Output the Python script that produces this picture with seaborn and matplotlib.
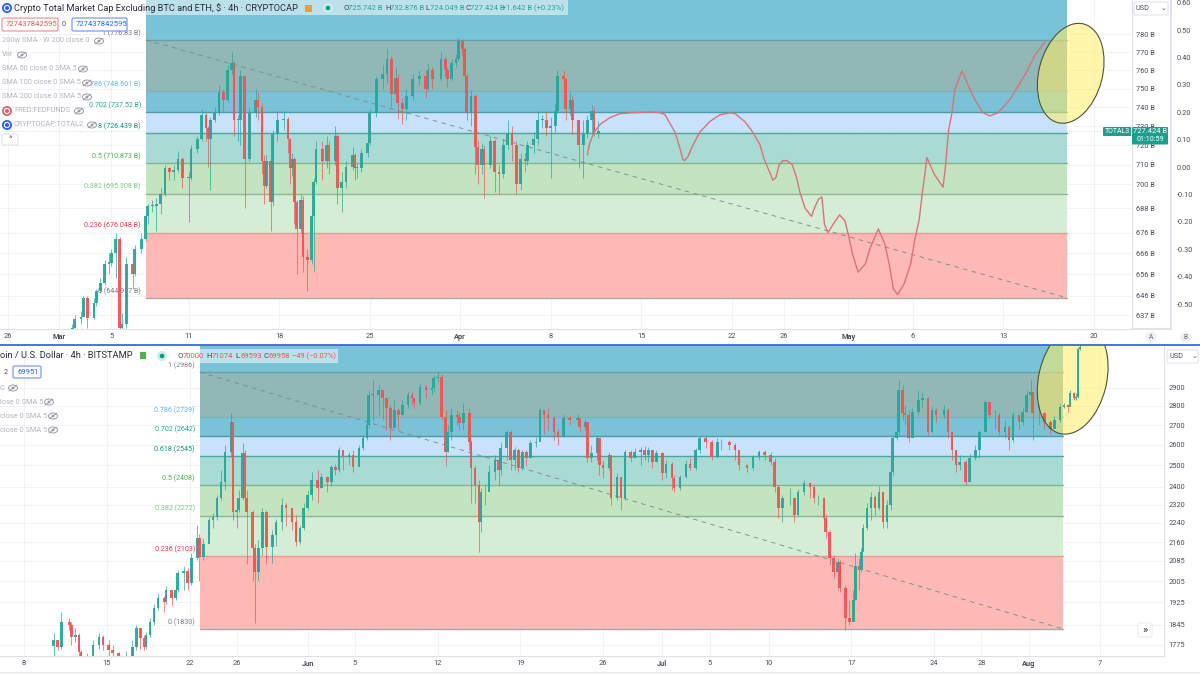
import numpy as np
import seaborn as sns
import matplotlib.pyplot as plt
from matplotlib.patches import Ellipse, Rectangle, FancyBboxPatch, Circle
from matplotlib.transforms import IdentityTransform

sns.set_theme(style='white')
plt.rcParams['font.family'] = ['Roboto', 'DejaVu Sans']

# top chart, 4h bars counted from Mar 1, prices in billions
top_bar = [6,7,10,11,13,16,17,19,21,23,
    24,26,28,29,31,34,35,38,40,41,
    43,45,47,49,51,53,55,57,60,61,
    64,66,68,69,70,72,74,76,78,80,
    81,83,84,86,88,91,92,94,95,96,
    98,99,101,104,106,107,108,109,110,112,
    113,115,117,118,119,122,124,125,128,129,
    131,133,136,137,138,140,143,144,147,150,
    152,154,156,157,159,161,164,167,170,171,
    173,177,179,180,182,184,185,187,188,189,
    191,193,194,196,197,200,202,204,206,208,
    210,212,214,216,217,220,222,224,226,228,
    230,231,234,235,237,238,241,243,245,247,
    248,250]
top_close = [631,635,636,645,635.5,642.5,648,652,661,661.5,
    666,673,631,633,661,656,668,673,684,689,
    689,690,695,708,706,707,713,703,703,718,
    723,736,729,723,733,737,748,744,760,764,
    733,733,757,713,737,744,740,712,699,712,
    691,726,733,734,723,708,713,691,678,692,
    664,663,684,701,718,712,720,712,725,698,
    701,709,715,708,708,716,721,737,755,758,
    766,747,756,742,739,746,755,757,750,760,
    755,766,760,755,764,766,776,772,757,737,
    746,719,710,718,710,722,706,705,720,726,
    720,700,713,712,720,723,733,733,729,730,
    738,757,755,739,744,733,720,726,733,738,
    726,727.4]
top_high = [633,637,639,646,646,645,649,654,663,666,
    668,676,674,638,664,662,670,676,686,690,
    692,693,698,710,709,710,717,714,706,720,
    725,739,737,730,735,740,752,750,763,770,
    765,736,760,755,740,750,748,742,715,715,
    712,728,738,738,735,724,716,714,692,695,
    694,668,686,703,722,722,725,722,730,726,
    706,712,719,716,711,718,725,739,757,763,
    772,768,762,758,745,750,758,760,760,764,
    762,770,768,762,766,769,778,777,773,758,
    749,747,722,721,720,725,723,710,723,733,
    730,722,716,716,722,727,738,736,738,735,
    742,760,760,756,748,746,733,733,736,741,
    740,732.9]
top_low = [630,631,633,636,631,635,641,647,651,656,
    660,654,629,629,631,649,655,666,672,680,
    686,677,685,694,702,702,706,698,681,702,
    716,722,722,709,697,732,736,738,743,758,
    725,722,720,688,712,735,733,705,690,698,
    677,689,722,728,716,700,704,680,656,676,
    657,648,661,657,700,702,708,705,710,690,
    686,698,707,702,703,706,714,720,735,750,
    753,740,745,734,731,733,744,752,745,749,
    750,754,757,751,754,762,765,768,752,733,
    730,705,700,705,693,708,696,695,703,718,
    712,695,697,706,710,716,720,729,725,703,
    727,737,750,733,736,726,708,703,724,726,
    725,724]

# hand drawn projection on the top chart
curve_bar = [245,246,248,251,255.5,260,265,274,279,281,283,285.7,288,289.3,290,291.6,293.5,297,
    301.8,306.5,311,313.5,318,321,325,327,330,331,332.5,334,335.7,337.6,340,342,343.6,346,349,
    350.5,352.3,353.8,355,356.6,359,362,364.5,366,368,370.6,374,376,380,383,385,387,389,392,395,
    397,399,400.6,401.6,402.5,406,410,411,412.6,414,415.5,418.8,421.6,424.8,428.6,431.8,435.5,
    441,448,452.7,457.3]
curve_price = [715,721,726.6,731,734.5,736.5,737,737.5,737,736,732,726.6,718,712.7,712,714,719,726.6,
    732.4,736,737,736.6,732.4,728,720.5,712.7,705,702,703.5,710,712,712,710,703.5,696,688,684,
    688.6,692.6,693.6,680,676,680,684.7,681.7,675.3,665.7,657,661,668,677.8,670.5,661,649,646.5,651.6,661,
    673,682.7,697.5,705,713.7,705,698.5,707.6,728,736,749.4,759.6,752,744,737,735.4,737,
    744,757.5,768.4,775.7]

# bottom chart, 4h bars counted from May 1, prices in USD
bot_bar = [57,59,61,65,66,68,70,71,74,77,
    80,82,85,87,90,94,97,99,101,103,
    104,106,108,110,113,114,117,119,120,123,
    125,127,130,131,133,136,138,140,142,144,
    147,148,150,151,153,154,155,158,159,161,
    163,165,168,170,173,175,178,180,182,184,
    186,188,191,193,196,198,200,202,204,207,
    209,212,214,216,217,219,222,224,226,228,
    230,232,
    234,237,239,240,243,246,249,250,252,254,
    256,257,259,262,263,265,268,269,271,273,
    274,276,278,281,283,284,287,289,291,293,
    295,297,299,302,304,306,308,311,313,316,
    319,323,324,327,328,330,333,334,336,339,
    340,343,345,347,350,352,355,357,359,361,
    363,366,368,371,372,375,378,380,383,385,
    388,391,394,396,400,403,405,409,412,415,
    418,421,423,425,427,431,433,435,
    438,441,443,445,448,449,451,453,455,456,
    459,461,463,464,466,467,468,470,472,474,
    476,478,480,482,483,485,486,488,489,491,
    493,496,498,501,503,505,509,511,513,515,
    517,520,522,525,527,530,532,535,537,540,
    542,544,547,549,551,553,554,557,560,563,
    565,568,570,572,573,575,576,577,578]
bot_close = [1792,1768,1855,1844,1802,1809,1750,1725,1731,1775,
    1802,1775,1758,1748,1735,1735,1768,1834,1799,1768,
    1809,1855,1904,1941,1926,1971,1941,1971,2035,2043,
    1997,2095,2175,2099,2152,2252,2265,2349,2421,2564,
    2716,2288,2296,2349,2559,2349,2288,2135,2040,2135,
    2288,2139,2188,2244,2318,2305,2244,2160,2218,2305,
    2362,2431,2394,2445,2421,2492,2478,2574,2540,2550,
    2492,2585,2634,2700,2860,2860,2886,2843,2789,2685,
    2778,2752,
    2805,2860,2843,2816,2903,2886,2897,2953,2959,2742,
    2564,2665,2752,2742,2711,2762,2614,2487,2408,2244,
    2376,2376,2469,2526,2478,2585,2665,2526,2574,2487,
    2564,2536,2610,2614,2778,2752,2737,2665,2640,2737,
    2726,2737,2690,2716,2536,2559,2634,2502,2487,2550,
    2349,2445,2349,2564,2536,2564,2574,2550,2574,2516,
    2559,2464,2507,2440,2394,2445,2507,2487,2574,2634,
    2614,2540,2614,2614,2600,2574,2502,2487,2540,2564,
    2550,2516,2399,2305,2349,2349,2274,2376,
    2417,2399,2349,2349,2261,2201,2095,2040,2079,1979,
    1869,1855,1934,2063,2047,2119,2218,2305,2353,2305,
    2376,2244,2318,2469,2634,2665,2886,2762,2752,2634,
    2767,2832,2843,2665,2778,2752,2778,2665,2574,2502,
    2516,2421,2536,2574,2665,2821,2752,2752,2665,2690,
    2624,2752,2716,2767,2860,2875,2762,2762,2716,2680,
    2726,2794,2805,2794,2870,2843,2848,3121,3135]
bot_high = [1816,1792,1890,1870,1855,1833,1816,1758,1748,1792,
    1816,1809,1792,1775,1751,1755,1792,1844,1834,1809,
    1820,1870,1919,1960,1949,1987,1971,1990,2047,2063,
    2055,2115,2230,2193,2175,2265,2283,2362,2478,2600,
    2762,2690,2320,2385,2610,2574,2385,2296,2150,2168,
    2305,2296,2210,2257,2349,2327,2305,2274,2230,2327,
    2385,2469,2478,2464,2450,2502,2507,2590,2574,2564,
    2574,2600,2650,2726,2886,2942,2914,2875,2832,2805,
    2832,2789,
    2832,2875,2875,2843,2925,2914,2920,2970,2987,2976,
    2778,2700,2789,2778,2767,2816,2789,2624,2502,2431,
    2394,2408,2502,2550,2536,2614,2675,2675,2590,2585,
    2574,2574,2624,2640,2789,2778,2789,2752,2680,2757,
    2752,2757,2737,2731,2716,2600,2645,2634,2526,2564,
    2478,2464,2431,2574,2574,2585,2590,2595,2590,2574,
    2574,2564,2526,2516,2455,2455,2526,2536,2585,2645,
    2645,2624,2634,2629,2624,2610,2574,2507,2550,2574,
    2574,2564,2536,2408,2362,2394,2353,2390,
    2431,2417,2408,2362,2353,2274,2210,2107,2095,2087,
    1990,1934,1971,2115,2095,2135,2235,2327,2376,2362,
    2403,2376,2340,2487,2650,2685,2942,2914,2805,2778,
    2789,2886,2875,2848,2800,2789,2805,2789,2665,2574,
    2550,2526,2555,2600,2675,2832,2821,2778,2767,2726,
    2700,2767,2752,2789,2886,2942,2875,2805,2767,2726,
    2747,2810,2816,2810,2886,2875,2870,3135,3150]
bot_low = [1738,1758,1762,1826,1775,1785,1738,1700,1700,1725,
    1762,1758,1738,1731,1720,1710,1725,1758,1762,1758,
    1762,1802,1844,1897,1890,1919,1915,1934,1964,1971,
    1971,1990,2087,2005,2087,2185,2218,2252,2340,2385,
    2540,2252,2218,2288,2340,2296,2072,2005,1851,2005,
    2107,2072,2075,2143,2210,2226,2210,2143,2152,2210,
    2296,2340,2327,2394,2376,2403,2455,2469,2478,2502,
    2469,2497,2574,2624,2685,2726,2752,2726,2675,2624,
    2700,2675,
    2752,2789,2805,2789,2805,2843,2860,2875,2931,2726,
    2497,2564,2624,2700,2675,2675,2574,2327,2327,2120,
    2200,2318,2385,2431,2403,2455,2526,2478,2478,2469,
    2478,2497,2536,2590,2624,2655,2675,2624,2600,2640,
    2700,2700,2665,2675,2516,2516,2526,2455,2440,2478,
    2318,2340,2296,2340,2516,2536,2502,2526,2516,2487,
    2516,2431,2440,2385,2376,2385,2440,2478,2478,2559,
    2585,2526,2536,2574,2574,2526,2478,2469,2478,2526,
    2526,2502,2376,2261,2244,2318,2244,2274,
    2362,2349,2327,2318,2252,2175,2066,2017,1971,1964,
    1826,1844,1897,1934,1971,2040,2127,2210,2252,2274,
    2296,2218,2218,2296,2455,2624,2650,2726,2700,2614,
    2650,2752,2789,2650,2665,2716,2737,2634,2526,2469,
    2478,2408,2431,2526,2536,2665,2737,2680,2650,2634,
    2574,2614,2680,2700,2767,2778,2624,2700,2680,2655,
    2700,2716,2789,2767,2848,2832,2832,2843,3115]

# fib levels, high to low
fib_ratio = ['1', '0.786', '0.702', '0.618', '0.5', '0.382', '0.236', '0']
top_levels = [776.83, 748.601, 737.52, 726.439, 710.873, 695.308, 676.048, 644.917]
bot_levels = [2986, 2739, 2642, 2545, 2408, 2272, 2103, 1830]
top_fib_text = ['1 (776.83 B)', '786 (748.601 B)', '0.702 (737.52 B)', '8 (726.439 B)',
                '0.5 (710.873 B)', '0.382 (695.308 B)', '0.236 (676.048 B)', '0 (644.917 B)']
bot_fib_text = ['1 (2986)', '0.786 (2739)', '0.702 (2642)', '0.618 (2545)',
                '0.5 (2408)', '0.382 (2272)', '0.236 (2103)', '0 (1830)']
zone_colors = ['#79c3d6', '#8fb8b6', '#7ac2d5', '#c8e2fb', '#a9dad4', '#c3e4c1', '#d5ecd5', '#fdb9b5']
line_colors = ['#6a9fad', '#7fb0bb', '#4d9aa8', '#4ca69c', '#7dba8b', '#8fb892', '#f09a93', '#a8a8a8']
label_colors = ['#787b86', '#64b5f6', '#26a69a', '#089981', '#4caf50', '#81c784', '#f23645', '#787b86']

top_ticks = [780, 770, 760, 750, 740, 730, 720, 710, 700, 688, 676, 666, 656, 646, 637]
bot_ticks = [2900, 2800, 2700, 2600, 2500, 2400, 2320, 2240, 2160, 2085, 2005, 1925, 1845, 1775]
fed_ticks = [0.6, 0.5, 0.4, 0.3, 0.2, 0.1, 0.0, -0.1, -0.2, -0.3, -0.4, -0.5]

top_date_bar = [-24, 0, 24, 60, 102, 144, 186, 228, 270, 312, 336, 366, 396, 438, 480]
top_date_text = ['26', 'Mar', '5', '11', '18', '25', 'Apr', '8', '15', '22', '26', 'May', '6', '13', '20']
bot_date_bar = [42, 84, 126, 150, 186, 210, 252, 294, 336, 366, 390, 420, 462, 504, 528, 552, 588]
bot_date_text = ['8', '15', '22', '26', 'Jun', '5', '12', '19', '26', 'Jul', '5', '10', '17', '24', '28', 'Aug', '7']
months = ['Mar', 'Apr', 'May', 'Jun', 'Jul', 'Aug']

UP = '#26a69a'
DOWN = '#ef5350'
GRID = '#f1f3f8'
BORDER = '#dfe1e8'
W, H = 1200, 674

fig = plt.figure(figsize=(W / 100, H / 100), dpi=100, facecolor='white')


def px_axes(x0, y0, x1, y1, **kw):
    return fig.add_axes([x0 / W, 1 - y1 / H, (x1 - x0) / W, (y1 - y0) / H], **kw)


def draw_chart(ax, bars, closes, highs, lows, first_open, levels, fib_text, fib_span, xlim, ylim,
               ticks, tick_text, date_bar, date_text):
    ax.set_yscale('log')
    ax.set_xlim(*xlim)
    ax.set_ylim(*ylim)

    # fib zones
    edges = [ylim[1]] + levels
    for i, color in enumerate(zone_colors):
        ax.fill_between(fib_span, edges[i + 1], edges[i], color=color, lw=0, zorder=1)
    for i, level in enumerate(levels):
        ax.plot(fib_span, [level, level], color=line_colors[i], lw=1.0, zorder=1.5)
        ax.annotate(fib_text[i], (fib_span[0], level), xytext=(-5, 3), textcoords='offset pixels',
                    ha='right', va='bottom', fontsize=5.1, color=label_colors[i], zorder=6)

    # trend line between the fib anchors
    sns.lineplot(x=fib_span, y=[levels[0], levels[-1]], ax=ax, color='#7d8c8c', lw=0.65,
                 linestyle=(0, (5, 5)), zorder=4)

    # candles
    closes = np.array(closes, dtype=float)
    opens = np.r_[first_open, closes[:-1]]
    colors = [UP if c >= o else DOWN for o, c in zip(opens, closes)]
    ax.vlines(bars, lows, highs, colors=colors, lw=0.7, alpha=0.7, zorder=3)
    body_low = np.minimum(opens, closes)
    body_size = np.maximum(np.abs(closes - opens), closes * 0.0009)
    ax.bar(bars, body_size, bottom=body_low, width=1.3, color=colors, lw=0, alpha=0.92, zorder=3.2)

    # axis dressing
    ax.set_xlabel('')
    ax.set_ylabel('')
    ax.yaxis.tick_right()
    ax.set_yticks(ticks)
    ax.set_yticklabels(tick_text)
    ax.minorticks_off()
    ax.set_xticks(date_bar)
    ax.set_xticklabels(date_text)
    ax.tick_params(axis='both', length=0, labelsize=5.3, labelcolor='#4a4e59', pad=3)
    for lab in ax.get_xticklabels():
        if lab.get_text() in months:
            lab.set_fontweight('bold')
    ax.grid(True, color=GRID, lw=0.7)
    ax.set_axisbelow(True)
    for side in ['top', 'left']:
        ax.spines[side].set_visible(False)
    for side in ['bottom', 'right']:
        ax.spines[side].set_color(BORDER)
        ax.spines[side].set_linewidth(0.8)
    ax.set_xlim(*xlim)
    ax.set_ylim(*ylim)


# top chart
ax_top = px_axes(0, 0, 1132, 329)
draw_chart(ax_top, top_bar, top_close, top_high, top_low, 630, top_levels, top_fib_text, [40.1, 467.5],
           (-27.6, 497.7), (630.6, 799.5), top_ticks, ['%d B' % t for t in top_ticks],
           top_date_bar, top_date_text)
ax_top.axhline(727.424, color='#bcd9d6', lw=0.6, ls=':', zorder=2)
sns.lineplot(x=curve_bar, y=curve_price, ax=ax_top, sort=False, estimator=None, color='#d9737b', lw=1.0, zorder=5)
ax_top.set_xlabel('')
ax_top.set_ylabel('')

# federal funds scale next to the price scale
ax_fed = px_axes(1132, 0, 1171, 329)
ax_fed.set_ylim(-0.591, 0.6095)
ax_fed.set_xticks([])
ax_fed.yaxis.tick_right()
ax_fed.set_yticks(fed_ticks)
ax_fed.set_yticklabels(['%.2f' % t for t in fed_ticks])
ax_fed.tick_params(axis='y', length=0, labelsize=5.3, labelcolor='#4a4e59', pad=4)
for side in ['top', 'left']:
    ax_fed.spines[side].set_visible(False)
for side in ['bottom', 'right']:
    ax_fed.spines[side].set_color(BORDER)
ax_fed.patch.set_alpha(0)

# bottom chart
ax_bot = px_axes(0, 345, 1164, 656)
draw_chart(ax_bot, bot_bar, bot_close, bot_high, bot_low, 1770, bot_levels, bot_fib_text, [131.3, 569.4],
           (29.8, 620.7), (1738, 3145), bot_ticks, [str(t) for t in bot_ticks],
           bot_date_bar, bot_date_text)

# yellow ellipses, placed in screen pixels
for ax, cx, cy, w, h, ang in [(ax_top, 1070.7, 73.3, 63.4, 102, -15), (ax_bot, 1072.7, 379, 68, 112, -12.8)]:
    ell = Ellipse((cx, H - cy), w, h, angle=ang, transform=IdentityTransform(), facecolor='#ffee66',
                  alpha=0.55, lw=0, zorder=2.5)
    ax.add_patch(ell)
    ell.set_clip_path(ax.patch)
    rim = Ellipse((cx, H - cy), w, h, angle=ang, transform=IdentityTransform(), facecolor='none',
                  edgecolor='#4f5436', lw=0.8, zorder=5)
    ax.add_patch(rim)
    rim.set_clip_path(ax.patch)

# overlay in pixels for the platform's chrome
ov = px_axes(0, 0, W, H, zorder=20)
ov.set_xlim(0, W)
ov.set_ylim(H, 0)
ov.axis('off')
ov.patch.set_alpha(0)


def label(x, y, s, size=5.3, color='#b2b5be', **kw):
    ov.text(x, y, s, fontsize=size, color=color, va='center', **kw)


def eye(x, y):
    ov.add_patch(Ellipse((x, y), 9, 6, fc='none', ec='#9a9da6', lw=0.7))
    ov.add_patch(Circle((x, y), 1.4, fc='#9a9da6', lw=0))
    ov.plot([x - 4, x + 4], [y + 3, y - 3], color='#9a9da6', lw=0.6)


def token(x, y, color='#2962ff'):
    ov.add_patch(Circle((x, y), 5, fc=color, lw=0))
    ov.add_patch(Circle((x, y), 2.6, fc='none', ec='white', lw=0.8))


def box(x0, y0, x1, y1, fc='white', ec='none', lw=0.8, round_=1.5, alpha=1):
    ov.add_patch(FancyBboxPatch((x0, y0), x1 - x0, y1 - y0, boxstyle='round,pad=0,rounding_size=%g' % round_,
                                fc=fc, ec=ec, lw=lw, alpha=alpha))


# top header
ov.add_patch(Rectangle((146, 0), 422, 15, fc='white', alpha=0.5, lw=0))
token(7, 8)
label(14, 8.5, 'Crypto Total Market Cap Excluding BTC and ETH, $ · 4h · CRYPTOCAP', size=6.7, color='#2a2e39')
ov.add_patch(Rectangle((305, 5), 7, 7, fc='#ff9830', lw=0))
ov.add_patch(Circle((328, 8), 5, fc='#cdeee9', lw=0))
ov.add_patch(Circle((328, 8), 2.3, fc='#089981', lw=0))
for x, let, val in [(343, 'O', '725.742 B'), (385, 'H', '732.876 B'), (425, 'L', '724.049 B'), (465, 'C', '727.424 B')]:
    label(x, 8.5, let, size=5.5, color='#3b4250')
    label(x + 5.5, 8.5, val, size=5.5, color=UP)
label(502, 8.5, '+1.642 B (+0.23%)', size=5.5, color=UP)

box(2, 18, 58, 31, ec='#f28b8b')
label(6, 24.5, '727437842595', size=5.5, color='#ef5350')
label(62, 24.5, '0', size=5.2, color='#4a4e59')
box(72, 18, 127, 31, ec='#6f8ff5')
label(76, 24.5, '727437842595', size=5.5, color='#2962ff')

for y, s, ex in [(41, '200w SMA · W 200 close 0', 99), (55, 'Vol', 22), (69, 'SMA 50 close 0 SMA 5', 83),
                 (83, 'SMA 100 close 0 SMA 5', 87), (97, 'SMA 200 close 0 SMA 5', 87)]:
    label(2, y, s)
    eye(ex, y)
token(7, 111, color='#d9636b')
label(14, 111, 'FRED:FEDFUNDS')
eye(79, 111)
token(7, 125)
label(14, 125, 'CRYPTOCAP:TOTAL2')
eye(92, 125)
box(2, 134, 18, 145, ec='#e3e5ea')
label(10, 139.5, '^', size=6, color='#4a4e59', ha='center')

# top scale furniture
box(1134, 2, 1168, 15, ec='#e3e5ea')
label(1136, 8.5, 'USD', size=5.2, color='#4a4e59')
label(1161, 8.5, '⌄', size=5, color='#4a4e59')
box(1103, 127, 1131, 136, fc='#1f9e8f', round_=1)
label(1117, 131.5, 'TOTAL3', size=5, color='white', ha='center')
box(1132, 127, 1168, 144.5, fc='#1f9e8f', round_=1)
label(1150, 131.5, '727.424 B', size=5.4, color='white', ha='center')
label(1150, 139.5, '01:10:59', size=5.2, color='white', ha='center')
ov.add_patch(Circle((1151, 337), 5.5, fc='#eef0f4', lw=0))
label(1151, 337.5, 'A', size=4.8, color='#6a6d78', ha='center')
ov.add_patch(Circle((1186, 337), 5.5, fc='#eef0f4', lw=0))
label(1186, 337.5, 'B', size=4.8, color='#6a6d78', ha='center')

# divider between the two charts
ov.plot([0, W], [344.5, 344.5], color='#3d68d8', lw=1.3)

# bottom header
ov.add_patch(Rectangle((170, 349), 168, 14, fc='white', alpha=0.5, lw=0))
label(0, 356, 'oin / U.S. Dollar · 4h · BITSTAMP', size=6.7, color='#2a2e39')
ov.add_patch(Rectangle((140, 352), 6, 7, fc='#4caf50', lw=0))
ov.add_patch(Circle((162, 356), 5, fc='#cdeee9', lw=0))
ov.add_patch(Circle((162, 356), 2.3, fc='#089981', lw=0))
for x, let, val in [(177, 'O', '70000'), (206, 'H', '71074'), (235, 'L', '69593'), (263, 'C', '69958')]:
    label(x, 356, let, size=5.5, color='#3b4250')
    label(x + 5.5, 356, val, size=5.5, color=DOWN)
label(292, 356, '−49 (−0.07%)', size=5.4, color=DOWN)
label(4, 372, '2', size=5.2, color='#4a4e59')
box(13, 366, 41, 378, ec='#6f8ff5')
label(17, 372, '69951', size=5.5, color='#2962ff')
label(0, 388, 'C')
eye(13, 388)
label(0, 402, 'lose 0 SMA 5')
eye(49, 402)
label(0, 416, 'close 0 SMA 5')
eye(53, 416)
label(0, 430, 'close 0 SMA 5')
eye(53, 430)

box(1167, 350, 1198, 363, ec='#e3e5ea')
label(1169, 356.5, 'USD', size=5.2, color='#4a4e59')
label(1192, 356.5, '⌄', size=5, color='#4a4e59')
box(1138, 623, 1152, 637, ec='#eceef2', round_=2)
label(1145, 630, '»', size=8, color='#2a2e39', ha='center')
ov.plot([0, W], [672, 672], color='#e6e8ee', lw=0.8)

fig.savefig('out.png', dpi=100)
